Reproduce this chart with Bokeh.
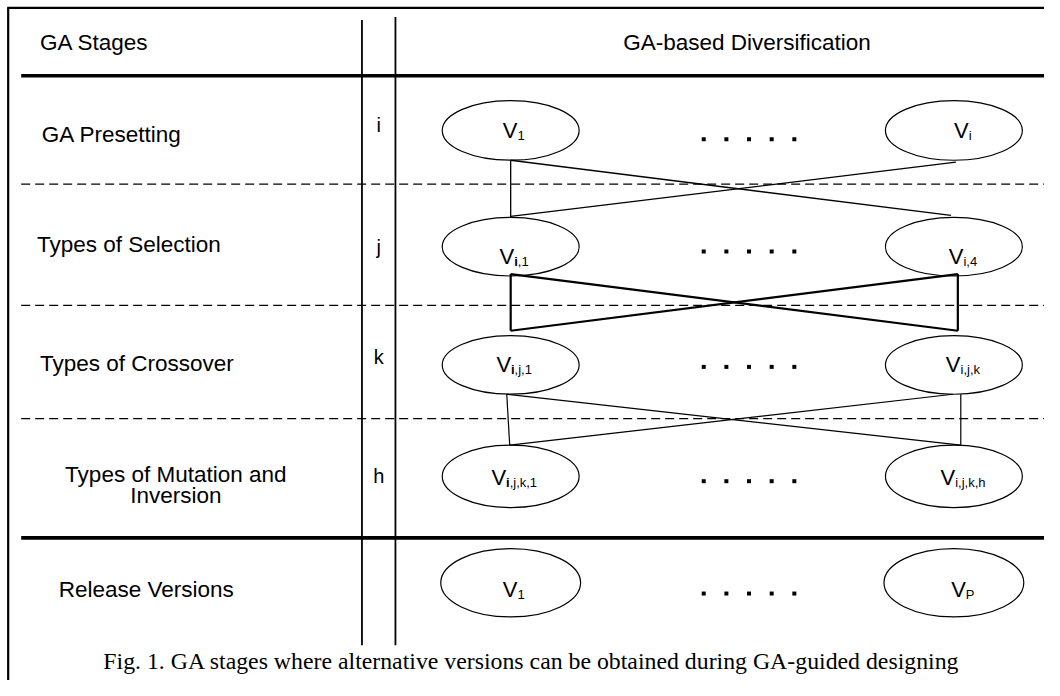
from bokeh.plotting import figure
from bokeh.models import Range1d
from bokeh.embed import file_html
from bokeh.resources import INLINE
from bokeh.core.properties import value

# ---- content ----
header_left = "GA Stages"
header_right = "GA-based Diversification"
stage_lines = [["GA Presetting"], ["Types of Selection"], ["Types of Crossover"],
               ["Types of Mutation and", "Inversion"], ["Release Versions"]]
stage_letters = ["i", "j", "k", "h"]
left_nodes = ["1", "i,1", "i,j,1", "i,j,k,1", "1"]
right_nodes = ["i", "i,4", "i,j,k", "i,j,k,h", "P"]
left_bold_first = [False, True, True, True, False]
caption = "Fig. 1. GA stages where alternative versions can be obtained during GA-guided designing"

# ---- layout (pixel coordinates of the 1060x696 reference picture) ----
row_y = [133, 252, 373, 487, 596]
node_x = [518, 968]
ell_w = [139, 139, 139, 139, 142]
ell_h = [61, 60, 60, 64, 70]
label_y = [137, 250, 372, 485, 603]
letter_y = [127, 252, 365, 487]
node_text_y = [133, 262, 373, 488, 603]
dots_y = [142, 257, 375, 492, 607]
dots_x = [714, 737, 760, 783, 806]
dash_y = [188, 312, 428]
thick_y = [77, 550]
col_x = [367, 401]

FONT = value("Liberation Sans")
SERIF = value("Liberation Serif")
LBL = "22.5px"

p = figure(width=1044, height=680, x_range=Range1d(0, 1060), y_range=Range1d(696, 0),
           output_backend="svg", toolbar_location=None, min_border=0)
p.axis.visible = False
p.grid.visible = False
p.outline_line_color = None
p.background_fill_color = "white"

# frame (left and top edges)
p.segment(x0=[7.8, 7], y0=[7, 7.5], x1=[7.8, 1060], y1=[696, 7.5], line_color="black", line_width=2.2)
# column separators
p.segment(x0=col_x, y0=[20, 17], x1=col_x, y1=[660, 660], line_color="black", line_width=1.8)
# thick horizontal rules
p.segment(x0=[21] * 2, y0=thick_y, x1=[1060] * 2, y1=thick_y, line_color="black", line_width=3.6)
# dashed separators
p.segment(x0=[21] * 3, y0=dash_y, x1=[1060] * 3, y1=dash_y, line_color="black",
          line_width=1.3, line_dash="9 5")

# header
p.text(x=[40], y=[43], text=[header_left], text_font=FONT, text_font_size=LBL,
       text_baseline="middle", text_align="left", text_color="black")
p.text(x=[758], y=[43], text=[header_right], text_font=FONT, text_font_size=LBL,
       text_baseline="middle", text_align="center", text_color="black")

# stage labels
label_x_left = [42, 37, 40]
for i in range(3):
    p.text(x=[label_x_left[i]], y=[label_y[i]], text=stage_lines[i], text_font=FONT,
           text_font_size=LBL, text_baseline="middle", text_align="left", text_color="black")
p.text(x=[178, 178], y=[label_y[3], label_y[3] + 22], text=stage_lines[3], text_font=FONT,
       text_font_size=LBL, text_baseline="middle", text_align="center", text_color="black")
p.text(x=[148], y=[label_y[4]], text=stage_lines[4], text_font=FONT,
       text_font_size=LBL, text_baseline="middle", text_align="center", text_color="black")

# stage letters
p.text(x=[384] * 4, y=letter_y, text=stage_letters, text_font=FONT, text_font_size="20px",
       text_baseline="middle", text_align="center", text_color="black")

# ellipses
ex, ey, ew, eh = [], [], [], []
for r in range(5):
    for cx in node_x:
        ex.append(cx); ey.append(row_y[r]); ew.append(ell_w[r]); eh.append(ell_h[r])
p.ellipse(x=ex, y=ey, width=ew, height=eh, fill_color="white", line_color="black", line_width=1.2)

# node labels (V + subscript, first subscript letter bold on the left-hand nodes)
CW = {",": 3.6, "i": 2.9, "j": 2.9, "k": 6.5, "h": 7.2, "P": 8.7}
def sub_w(s):
    return sum(CW.get(ch, 7.2) for ch in s)

text_dx = [3, 9]
vx, vy = [], []
sx, sy, st = [], [], []
bx, by, bt = [], [], []
for r in range(5):
    for side, (cx, s) in enumerate(zip(node_x, [left_nodes[r], right_nodes[r]])):
        vw = 15
        start = cx + text_dx[side] - (vw + sub_w(s)) / 2
        vx.append(start + vw); vy.append(node_text_y[r])
        x0 = start + vw
        if side == 0 and left_bold_first[r]:
            bx.append(x0); by.append(node_text_y[r] + 5); bt.append(s[0])
            x0 += 3.6
            s = s[1:]
        sx.append(x0); sy.append(node_text_y[r] + 5); st.append(s)
p.text(x=vx, y=vy, text=["V"] * len(vx), text_font=FONT, text_font_size="22px",
       text_baseline="middle", text_align="right", text_color="black")
p.text(x=sx, y=sy, text=st, text_font=FONT, text_font_size="13px",
       text_baseline="middle", text_align="left", text_color="black")
p.text(x=bx, y=by, text=bt, text_font=FONT, text_font_size="13px", text_font_style="bold",
       text_baseline="middle", text_align="left", text_color="black")

# dots
dx, dy = [], []
for r in range(5):
    for x in dots_x:
        dx.append(x); dy.append(dots_y[r])
p.scatter(x=dx, y=dy, marker="square", size=4, fill_color="black", line_color=None)

# connectors
L, R = node_x
def bot(r): return row_y[r] + ell_h[r] / 2
def top(r): return row_y[r] - ell_h[r] / 2

# stage 1 -> 2 (thin)
p.segment(x0=[L, L, R + 2], y0=[bot(0), bot(0), bot(0) + 2],
          x1=[L, R - 3, L], y1=[top(1), top(1) - 2, top(1) - 1],
          line_color="black", line_width=1.3)
# stage 2 -> 3 (thick)
a, b = bot(1) - 2, top(2) - 5
p.segment(x0=[L, R + 4, L, R + 4], y0=[a, a, a, a], x1=[L, R + 4, R + 4, L], y1=[b, b, b, b],
          line_color="black", line_width=2.2)
# stage 3 -> 4 (thin)
a, b = bot(2), top(3)
p.segment(x0=[L - 4, R + 7, L - 4, R - 1], y0=[a, a, a, a],
          x1=[L - 1, R + 7, R + 7, L - 1], y1=[b, b, b, b],
          line_color="black", line_width=1.2)

# caption
p.text(x=[974], y=[676], text=[caption], text_font=SERIF, text_font_size="23.8px",
       text_baseline="middle", text_align="right", text_color="black")

open("out.html", "w").write(file_html(p, INLINE))
